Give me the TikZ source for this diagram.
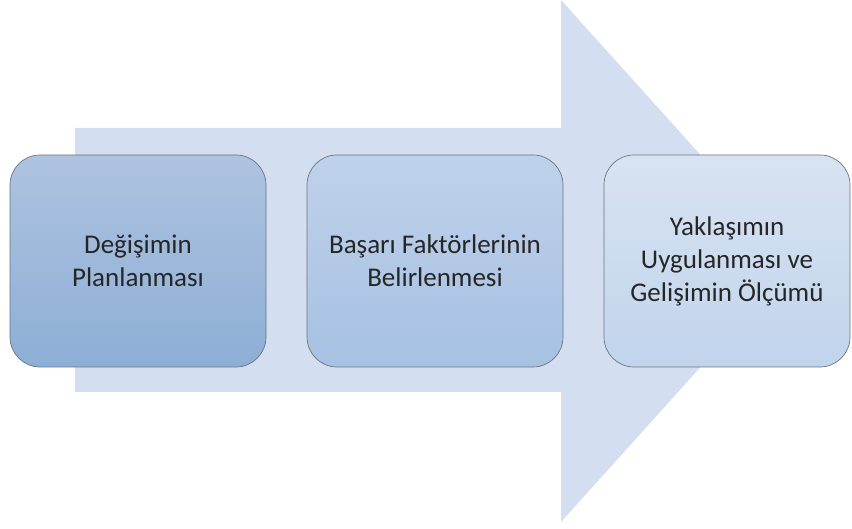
\documentclass[tikz,border=0pt]{standalone}
\usepackage{fontspec}
\setmainfont{Carlito}
\definecolor{arrowfill}{HTML}{D3DFF0}
\definecolor{boxline}{HTML}{6A7580}
\definecolor{boxAtop}{HTML}{AEC3E0}
\definecolor{boxAbot}{HTML}{8DAED6}
\definecolor{boxBtop}{HTML}{BFD1EA}
\definecolor{boxBbot}{HTML}{A6C1E2}
\definecolor{boxCtop}{HTML}{D8E3F2}
\definecolor{boxCbot}{HTML}{C1D4EC}
\tikzset{
  stagebox/.style={draw=boxline, line width=0.7pt, rounded corners=30pt,
    minimum width=256pt, minimum height=212pt, align=center, inner sep=0pt,
    font=\fontsize{27pt}{33pt}\selectfont, text=black!85},
}
\begin{document}
\begin{tikzpicture}[x=1pt,y=-1pt]
\useasboundingbox (0,0) rectangle (852,529);
\fill[arrowfill] (75,128) -- (561,128) -- (561,0) -- (796,261) -- (561,522) -- (561,392) -- (75,392) -- cycle;
\node[stagebox, top color=boxAtop, bottom color=boxAbot] (b1) at (138,261) {Değişimin\\Planlanması};
\node[stagebox, top color=boxBtop, bottom color=boxBbot] (b2) at (435,261) {Başarı Faktörlerinin\\Belirlenmesi};
\node[stagebox, minimum width=246pt, top color=boxCtop, bottom color=boxCbot] (b3) at (727,261) {Yaklaşımın\\Uygulanması ve\\Gelişimin Ölçümü};
\end{tikzpicture}
\end{document}
